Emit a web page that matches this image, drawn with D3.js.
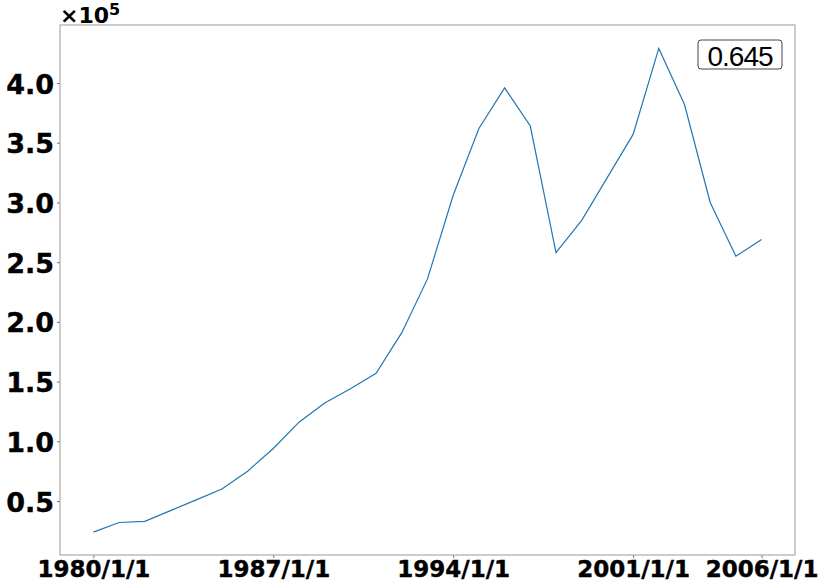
<!DOCTYPE html>
<html>
<head>
<meta charset="utf-8">
<script src="https://cdn.jsdelivr.net/npm/d3@7"></script>
<style>
  body { margin: 0; background: #fff; }
  svg { display: block; }
</style>
</head>
<body>
<svg width="830" height="588"></svg>
<script>
// yearly values, 1980..2006 (units of 1e5)
const years = d3.range(1980, 2007);
const values = [0.24, 0.32, 0.33, 0.42, 0.51, 0.60, 0.75, 0.94, 1.16, 1.32,
    1.44, 1.57, 1.91, 2.36, 3.06, 3.62, 3.96, 3.64, 2.58, 2.85,
    3.21, 3.57, 4.29, 3.82, 3.00, 2.55, 2.69];
const xTickIndex = [0, 7, 14, 21, 26];
const xTickLabels = ["1980/1/1", "1987/1/1", "1994/1/1", "2001/1/1", "2006/1/1"];
const yTicks = [0.5, 1.0, 1.5, 2.0, 2.5, 3.0, 3.5, 4.0];
const scoreText = "0.645";

const svg = d3.select("svg"),
    plotLeft = 60, plotRight = 795, plotTop = 25, plotBottom = 555;

const x = d3.scaleLinear().domain([-1.3, 27.3]).range([plotLeft, plotRight]);
const y = d3.scaleLinear().domain([0.048, 4.486]).range([plotBottom, plotTop]);

// line
const line = d3.line()
    .x(function (d, i) { return x(i); })
    .y(function (d) { return y(d); });

svg.append("path")
    .datum(values)
    .attr("fill", "none")
    .attr("stroke", "#1f77b4")
    .attr("stroke-width", 1.2)
    .attr("d", line);

// axes
const xAxis = d3.axisBottom(x)
    .tickValues(xTickIndex)
    .tickSize(3)
    .tickFormat(function (d, i) { return xTickLabels[i]; });

const yAxis = d3.axisLeft(y)
    .tickValues(yTicks)
    .tickSize(3)
    .tickFormat(d3.format(".1f"));

const gx = svg.append("g")
    .attr("transform", "translate(0," + plotBottom + ")")
    .call(xAxis);
gx.select(".domain").remove();
gx.selectAll(".tick line").attr("stroke", "#777");
gx.selectAll(".tick text")
    .attr("y", 22)
    .attr("dy", 0)
    .style("font-family", "'DejaVu Sans', sans-serif")
    .style("font-weight", "bold")
    .style("font-size", "23px")
    .attr("fill", "#000")
    .attr("stroke", "#000")
    .attr("stroke-width", 0.4);

const gy = svg.append("g")
    .attr("transform", "translate(" + plotLeft + ",0)")
    .call(yAxis);
gy.select(".domain").remove();
gy.selectAll(".tick line").attr("stroke", "#777");
gy.selectAll(".tick text")
    .attr("x", -6)
    .attr("dy", 10)
    .style("font-family", "'DejaVu Sans', sans-serif")
    .style("font-weight", "bold")
    .style("font-size", "27px")
    .attr("fill", "#000")
    .attr("stroke", "#000")
    .attr("stroke-width", 0.4);

// frame
svg.append("rect")
    .attr("x", plotLeft)
    .attr("y", plotTop)
    .attr("width", plotRight - plotLeft)
    .attr("height", plotBottom - plotTop)
    .attr("fill", "none")
    .attr("stroke", "#999")
    .attr("stroke-width", 1);

// offset text
const off = svg.append("text")
    .attr("x", plotLeft)
    .attr("y", 23)
    .style("font-family", "'DejaVu Sans', sans-serif")
    .style("font-weight", "bold")
    .style("font-size", "22px")
    .attr("fill", "#000");
off.append("tspan").text("\u00d710");
off.append("tspan")
    .attr("dy", -8)
    .style("font-size", "16px")
    .text("5");

// score box
svg.append("rect")
    .attr("x", 698)
    .attr("y", 40)
    .attr("width", 84)
    .attr("height", 29)
    .attr("rx", 3)
    .attr("fill", "#fff")
    .attr("stroke", "#444")
    .attr("stroke-width", 1);

svg.append("text")
    .attr("x", 740)
    .attr("y", 66)
    .attr("text-anchor", "middle")
    .style("font-family", "'Liberation Sans', Arial, sans-serif")
    .style("font-size", "28px")
    .style("letter-spacing", "-1px")
    .attr("fill", "#000")
    .text(scoreText);
</script>
</body>
</html>
